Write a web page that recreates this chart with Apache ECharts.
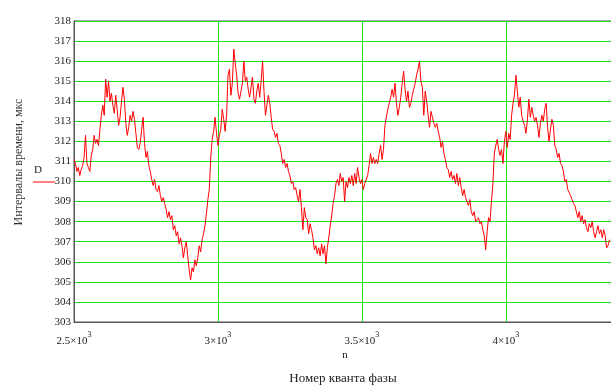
<!DOCTYPE html>
<html>
<head>
<meta charset="utf-8">
<script src="https://cdn.jsdelivr.net/npm/echarts@6/dist/echarts.min.js"></script>
<style>
html,body{margin:0;padding:0;background:#fff;}
#chart{width:611px;height:385px;}
</style>
</head>
<body>
<div id="chart"></div>
<script>
// n axis: samples start at 2500, step 5
const nStart = 2500;
const nStep = 5;
// D values (interval, us)
const D = [
311.1,310.9,310.5,310.7,310.3,310.6,310.8,311.2,312.3,310.9,
310.7,310.5,311.3,311.6,312.3,311.9,312.1,311.8,312.6,313.3,
313.8,313.3,315.1,314.2,315.0,314.0,314.4,313.8,313.4,314.3,
313.6,312.8,313.2,314.0,314.7,314.1,312.9,312.3,312.7,313.3,
313.0,313.5,313.1,312.4,311.7,311.6,311.9,312.6,313.2,311.9,
311.2,311.5,310.8,310.5,310.1,309.8,310.1,309.6,309.5,309.8,
309.3,309.0,309.2,308.9,308.6,308.2,308.5,308.1,308.3,307.6,
307.8,307.3,307.5,306.9,307.2,306.8,306.2,306.7,307.0,306.3,
305.6,305.1,305.7,305.5,306.1,305.8,306.2,306.8,306.5,307.1,
307.4,307.8,308.4,309.1,309.6,311.2,312.1,312.5,313.2,312.4,
311.8,312.3,312.6,313.6,313.1,312.5,313.3,315.3,315.6,314.3,
314.9,316.6,315.9,315.3,314.4,314.1,314.5,314.9,316.0,315.0,
315.2,314.6,314.2,314.7,315.2,314.1,313.9,314.5,314.9,314.2,
315.0,316.0,314.5,313.3,313.8,314.3,313.9,313.2,312.6,312.5,
312.2,312.4,311.9,311.8,311.4,310.9,311.1,310.7,310.9,310.5,
310.3,309.9,310.0,309.6,309.7,309.3,309.0,309.6,308.7,307.6,
308.7,308.2,308.1,307.4,307.9,307.6,307.2,306.6,306.8,306.4,
306.7,306.3,306.9,306.4,306.8,305.9,306.7,307.2,307.8,308.3,
308.9,309.3,309.9,310.1,309.8,310.4,310.0,310.2,309.0,310.0,
309.7,310.2,309.9,310.3,309.8,310.4,309.9,310.7,310.2,309.9,
310.1,309.6,309.9,309.9,310.3,310.8,311.4,310.9,311.2,310.9,
311.1,310.9,311.4,311.8,311.1,311.6,312.8,313.2,313.6,313.9,
314.2,314.6,314.2,314.9,313.9,313.3,313.7,314.2,314.9,315.5,
314.6,314.0,314.5,313.7,313.9,314.3,314.6,314.9,315.3,315.6,
316.0,315.0,314.7,313.3,314.5,314.0,313.3,312.7,313.5,313.2,
312.9,312.7,312.9,312.5,312.2,311.7,312.0,311.4,311.1,310.7,
310.6,310.2,310.5,310.1,310.3,309.9,310.4,309.8,310.2,309.7,
309.3,309.6,309.2,309.0,308.8,309.1,308.5,308.3,308.5,308.0,
308.1,308.2,307.9,308.0,307.6,307.3,306.6,307.5,308.2,308.0,
309.0,309.9,311.4,311.8,312.1,311.6,311.3,311.6,310.9,312.0,
312.5,311.7,312.4,312.1,313.3,313.9,314.3,315.3,314.5,313.7,
314.2,313.3,313.0,312.8,312.4,313.1,314.1,313.2,313.7,313.3,
313.0,313.2,312.8,312.2,312.9,313.3,313.0,313.6,313.9,312.7,
312.0,312.6,313.1,312.8,311.8,311.6,311.2,311.4,310.9,310.8,
310.5,310.0,310.1,309.6,309.6,309.3,309.1,308.9,308.8,308.5,
308.2,308.5,308.0,308.3,307.9,308.1,307.7,307.5,307.9,307.7,
308.0,307.5,307.2,307.5,307.8,307.4,307.6,307.2,307.6,307.3,
306.7,306.8,307.1
];
const xTicksThousands = [2.5, 3, 3.5, 4];

const seriesData = D.map((v, i) => [nStart + nStep * i, v]);

const serif = '"Liberation Serif", "DejaVu Serif", serif';
const green = '#1fe01f';

const chart = echarts.init(document.getElementById('chart'), null, {renderer: 'canvas'});
chart.setOption({
  animation: false,
  backgroundColor: '#ffffff',
  grid: {left: 74, top: 21, width: 547, height: 301, outerBoundsMode: 'none', containLabel: false,
         show: true, borderColor: '#555', borderWidth: 1, backgroundColor: 'transparent'},
  xAxis: {
    type: 'value', min: 2500, max: 4400, interval: 500,
    axisLine: {show: true, lineStyle: {color: '#555', width: 1}},
    axisTick: {show: false},
    splitLine: {show: true, lineStyle: {color: green, width: 1}},
    axisLabel: {
      margin: 9, showMaxLabel: false,
      formatter: v => {
        const k = v / 1000;
        return xTicksThousands.indexOf(k) >= 0 ? '{a|' + k + '×10}{s|3}' : '';
      },
      rich: {
        a: {fontFamily: serif, fontSize: 11, color: '#222', lineHeight: 16, verticalAlign: 'bottom'},
        s: {fontFamily: serif, fontSize: 8, color: '#222', lineHeight: 10, verticalAlign: 'top'}
      }
    }
  },
  yAxis: {
    type: 'value', min: 303, max: 318, interval: 1,
    axisLine: {show: true, lineStyle: {color: '#555', width: 1}},
    axisTick: {show: false},
    splitLine: {show: true, lineStyle: {color: green, width: 1}},
    axisLabel: {fontFamily: serif, fontSize: 11, color: '#222', margin: 3}
  },
  graphic: [
    {type: 'text', x: 19, y: 162, rotation: Math.PI / 2,
     style: {text: 'Интервалы времени, мкс', font: '12px ' + serif, fill: '#333', align: 'center', verticalAlign: 'middle'}},
    {type: 'text', x: 34, y: 165, style: {text: 'D', font: '11px ' + serif, fill: '#222'}},
    {type: 'line', shape: {x1: 33, y1: 182, x2: 55, y2: 182}, style: {stroke: '#ff0000', lineWidth: 1}},
    {type: 'text', x: 345, y: 355, style: {text: 'n', font: '11px ' + serif, fill: '#222', align: 'center', verticalAlign: 'middle'}},
    {type: 'text', x: 343, y: 379, style: {text: 'Номер кванта фазы', font: '13px ' + serif, fill: '#222', align: 'center', verticalAlign: 'middle'}}
  ],
  series: [{
    type: 'line', data: seriesData, showSymbol: false, symbol: 'none',
    lineStyle: {color: '#ff0000', width: 1}, silent: true
  }]
});
</script>
</body>
</html>
